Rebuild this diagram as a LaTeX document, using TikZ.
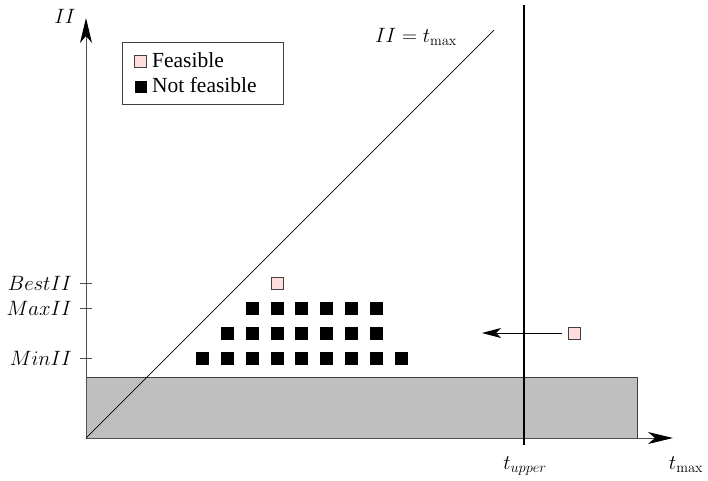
\documentclass[tikz,border=0pt]{standalone}
\usepackage[no-math]{fontspec}
\newfontfamily\timesfont{Liberation Serif}
\usetikzlibrary{arrows.meta}
\definecolor{pinkfill}{RGB}{255,221,221}
\definecolor{axisgray}{RGB}{80,80,80}
\definecolor{boxgray}{RGB}{191,191,191}
\tikzset{
  feas/.style={draw=black!75, fill=pinkfill, line width=0.8pt, minimum size=12pt, inner sep=0pt},
  infeas/.style={fill=black, minimum size=13pt, inner sep=0pt},
  axis/.style={draw=axisgray, line width=1pt, -{Stealth[length=25pt,width=12pt,inset=7pt,color=black]}},
  mlabel/.style={font=\fontsize{20}{24}\selectfont, inner sep=0pt},
  ticklabel/.style={font=\fontsize{19.5}{23}\selectfont, inner sep=0pt, anchor=east},
  tlabel/.style={font=\timesfont\fontsize{21.5}{26}\selectfont, inner sep=0pt},
  tick/.style={draw=axisgray, line width=1pt}
}
\begin{document}
\begin{tikzpicture}[x=1pt,y=-1pt]
\useasboundingbox (0,0) rectangle (708,480);
% gray region
\draw[fill=boxgray, draw=black!75, line width=1pt] (86,377) rectangle (637,438);
% axes
\coordinate (O) at (86,438);
\coordinate (ytip) at (86,18);
\coordinate (xtip) at (673,438);
\draw[axis] (O) -- (ytip);
\draw[axis] (O) -- (xtip);
\node[mlabel] (ylab) at (65,16) {$II$};
\node[mlabel] (xlab) at (686,465) {$t_{\max}$};
% diagonal
\coordinate (dend) at (494,30);
\draw[black, line width=0.7pt] (O) -- (dend);
\node[mlabel] (dlab) at (416,37) {$II = t_{\max}$};
% t_upper line
\coordinate (ut) at (524,5);
\coordinate (ub) at (524,445);
\draw[black, line width=1.8pt] (ut) -- (ub);
\node[mlabel] (ulab) at (525,466) {$t_{upper}$};
% ticks
\foreach \yy/\nm/\lab in {283/best/BestII, 308/max/MaxII, 358/min/MinII}{
  \coordinate (t\nm a) at (80,\yy);
  \coordinate (t\nm b) at (92,\yy);
  \draw[tick] (t\nm a) -- (t\nm b);
  \node[ticklabel] (l\nm) at (72,\yy) {$\lab$};
}
% squares
\foreach \i in {0,...,8}{
  \node[infeas] (r1\i) at ({202.7+24.8*\i},358) {};
}
\foreach \i in {0,...,6}{
  \node[infeas] (r2\i) at ({227.5+24.8*\i},333) {};
}
\foreach \i in {0,...,5}{
  \node[infeas] (r3\i) at ({252.3+24.8*\i},308) {};
}
\node[feas] (fbest) at (277,283) {};
\node[feas] (fright) at (574,333) {};
\coordinate (atip) at (482,333);
\draw[black, line width=1pt, shorten <=6pt, -{Stealth[length=19pt,width=10pt,inset=5pt]}] (fright) -- (atip);
% legend
\draw[draw=black!75, fill=white, line width=1pt] (122,42) rectangle (283,104);
\node[feas] (lgf) at (140.5,61.5) {};
\node[infeas, minimum size=12pt] (lgn) at (140.5,86.5) {};
\node[tlabel, anchor=base west] (lgft) at (152,67) {Feasible};
\node[tlabel, anchor=base west] (lgnt) at (152,92) {Not feasible};
\end{tikzpicture}
\end{document}
